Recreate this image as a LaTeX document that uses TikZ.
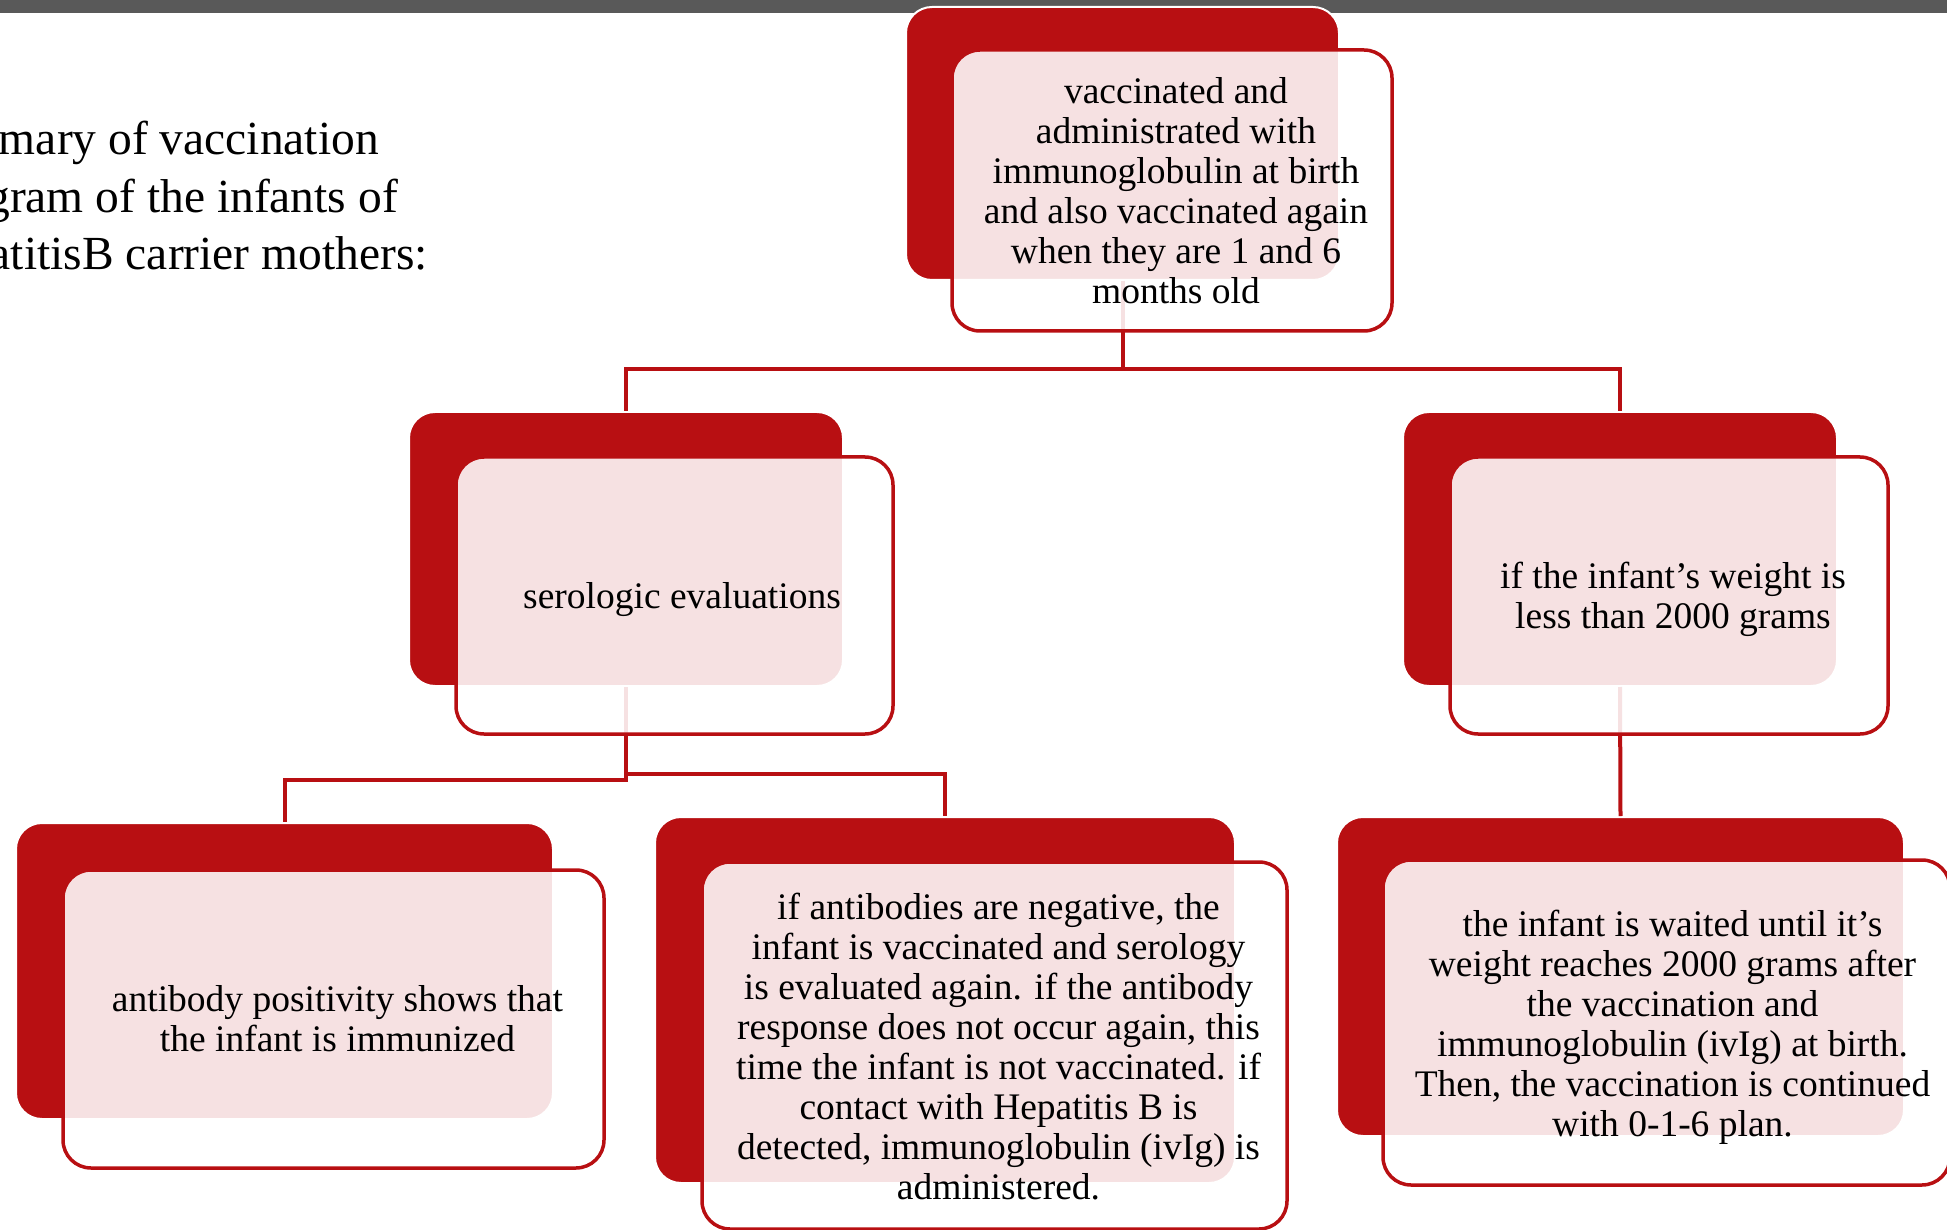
\documentclass[tikz,border=0pt]{standalone}
\usepackage{fontspec}
\setmainfont{Liberation Serif}
\definecolor{boxred}{RGB}{184,15,18}
\definecolor{bargrey}{RGB}{89,89,89}
\tikzset{
  redbox/.style={draw=white, line width=2pt, fill=boxred, rounded corners=26pt, inner sep=0pt},
  frontbox/.style={draw=boxred, line width=3.5pt, fill=white, fill opacity=0.88, draw opacity=1, rounded corners=28pt, inner sep=0pt},
  boxtext/.style={align=center, inner sep=0pt, font=\fontsize{37.5}{40}\selectfont, text=black},
  conn/.style={draw=boxred, line width=4pt},
  titletext/.style={anchor=base east, inner sep=0pt, font=\fontsize{47.5}{57.5}\selectfont, text=black}
}
\begin{document}
\begin{tikzpicture}[x=1pt,y=-1pt]
\useasboundingbox (0,0) rectangle (1947,1230);
\clip (0,0) rectangle (1947,1230);
\fill[bargrey] (0,0) rectangle (1947,13);

% title (cut at the left edge)
\node[titletext] (ti1) at (379,155) {Summary of vaccination};
\node[titletext] (ti2) at (398,213) {program of the infants of};
\node[titletext] (ti3) at (428,270) {HepatitisB carrier mothers:};

% back red boxes
\node[redbox, minimum width=433pt, minimum height=273pt] (rt)  at (1122.5,143.5) {};
\node[redbox, minimum width=434pt, minimum height=274pt] (rml) at (626,549) {};
\node[redbox, minimum width=434pt, minimum height=274pt] (rmr) at (1620,549) {};
\node[redbox, minimum width=537pt, minimum height=296pt] (rbl) at (284.5,971) {};
\node[redbox, minimum width=580pt, minimum height=366pt] (rbm) at (945,1000) {};
\node[redbox, minimum width=567pt, minimum height=319pt] (rbr) at (1620.5,976.5) {};

% connectors
\coordinate (j1) at (1122.5,369);
\coordinate (j2) at (626,780);
\coordinate (j3) at (626,774);
\draw[conn] (rt.south) -- (j1) -| (rml.north);
\draw[conn] (j1) -| (rmr.north);
\draw[conn] (rml.south) -- (j2) -| (rbl.north);
\draw[conn] (j3) -| (rbm.north);
\draw[conn] (rmr.south) -- (rbr.north);

% front boxes
\node[frontbox, minimum width=440pt, minimum height=281pt] (ft)  at (1172,190.5) {};
\node[frontbox, minimum width=437pt, minimum height=277pt] (fml) at (674.5,595.5) {};
\node[frontbox, minimum width=438pt, minimum height=277pt] (fmr) at (1669,595.5) {};
\node[frontbox, minimum width=541pt, minimum height=298pt] (fbl) at (333.5,1019) {};
\node[frontbox, minimum width=585pt, minimum height=367pt] (fbm) at (994.5,1045.5) {};
\node[frontbox, minimum width=567pt, minimum height=325pt] (fbr) at (1666.5,1022.5) {};

% texts
\node[boxtext] (tt) at (1176,190.5)
  {vaccinated and\\administrated with\\immunoglobulin at birth\\and also vaccinated again\\when they are 1 and 6\\months old};
\node[boxtext] (tml) at (682,599.5) {serologic evaluations};
\node[boxtext] (tmr) at (1673,599.5) {if the infant’s weight is\\less than 2000 grams};
\node[boxtext] (tbl) at (337.5,1019) {antibody positivity shows that\\the infant is immunized};
\node[boxtext] (tbm) at (998.5,1046.5)
  {if antibodies are negative, the\\infant is vaccinated and serology\\is evaluated again. if the antibody\\response does not occur again, this\\time the infant is not vaccinated. if\\contact with Hepatitis B is\\detected, immunoglobulin (ivIg) is\\administered.};
\node[boxtext] (tbr) at (1672.5,1027.5)
  {the infant is waited until it’s\\weight reaches 2000 grams after\\the vaccination and\\immunoglobulin (ivIg) at birth.\\Then, the vaccination is continued\\with 0-1-6 plan.};
\end{tikzpicture}
\end{document}
